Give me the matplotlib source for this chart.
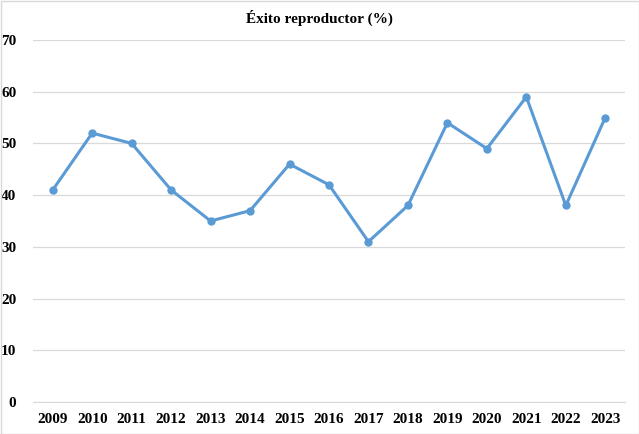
import matplotlib.pyplot as plt
from matplotlib.patches import Rectangle

years = ['2009', '2010', '2011', '2012', '2013', '2014', '2015', '2016',
         '2017', '2018', '2019', '2020', '2021', '2022', '2023']
exito = [41, 52, 50, 41, 35, 37, 46, 42, 31, 38, 54, 49, 59, 38, 55]

plt.rcParams['font.family'] = ['Liberation Serif', 'DejaVu Serif']

W, H = 639, 434
fig = plt.figure(figsize=(W / 100, H / 100), dpi=100)
ax = fig.add_axes([33 / W, (H - 402) / H, (625 - 33) / W, (402 - 40) / H])

x = list(range(len(years)))
ax.plot(x, exito, color='#5B9BD5', linewidth=2.2, marker='o', markersize=5,
        zorder=3)

ax.set_xlim(-0.5, len(years) - 0.5)
ax.set_ylim(0, 70)
ax.set_yticks(range(0, 71, 10))
ax.set_xticks(x)
ax.set_xticklabels(years)
ax.grid(axis='y', color='#D9D9D9', linewidth=0.9)
ax.set_axisbelow(True)
for side in ['top', 'right', 'left']:
    ax.spines[side].set_visible(False)
ax.spines['bottom'].set_color('#D9D9D9')
ax.tick_params(length=0, labelsize=11, pad=8)
ax.tick_params(axis='y', pad=12)
for lbl in ax.get_xticklabels() + ax.get_yticklabels():
    lbl.set_fontweight('bold')

fig.text(0.5, (H - 18) / H, 'Éxito reproductor (%)', ha='center', va='center',
         fontsize=11, fontweight='bold')

fig.patches.append(Rectangle((0.5 / W, 0.5 / H), 1 - 1 / W, 1 - 1 / H,
                             transform=fig.transFigure, fill=False,
                             edgecolor='#D9D9D9', linewidth=1))

fig.savefig('out.png', dpi=100)
